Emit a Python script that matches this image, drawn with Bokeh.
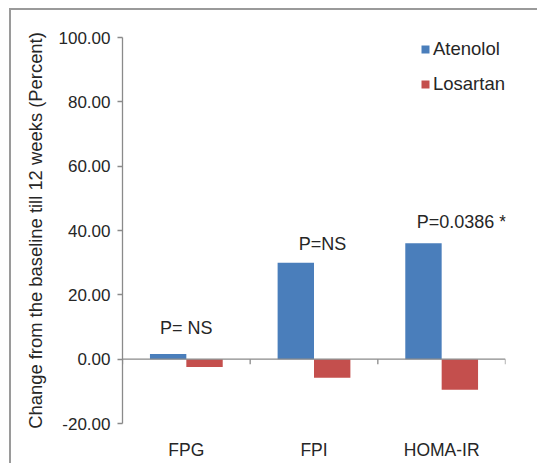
from bokeh.plotting import figure
from bokeh.models import (FactorRange, Range1d, FixedTicker, NumeralTickFormatter,
                          Span, ColumnDataSource, Legend, LegendItem)
from bokeh.transform import dodge
from bokeh.core.properties import value
from bokeh.embed import file_html
from bokeh.resources import INLINE
import numpy as np

# ---- data ----
categories = ["FPG", "FPI", "HOMA-IR"]
atenolol = [1.6, 30.0, 36.0]
losartan = [-2.4, -5.8, -9.5]
y_ticks = [-20, 0, 20, 40, 60, 80, 100]
p_labels = ["P= NS", "P=NS", "P=0.0386 *"]
# annotation placement (offset from category centre, height in data units)
p_label_dx = [0.0, 0.066, 0.155]
p_label_y = [9.6, 35.7, 42.5]

FONT = "Liberation Sans"
TXT = "#262626"
AX = "#8a8a8a"
BLUE = "#4a7ebb"
RED = "#c44f4d"

p = figure(width=528, height=455, output_backend="svg", toolbar_location=None,
           x_range=FactorRange(*categories, range_padding=0),
           y_range=Range1d(-20, 100),
           min_border_left=111, min_border_right=34, min_border_top=27, min_border_bottom=42)
p.styles = {"border-top": "2px solid #9a9a9a", "border-left": "2px solid #9a9a9a",
            "margin-left": "9px", "margin-top": "8px"}
p.outline_line_color = None
p.grid.visible = False

src = ColumnDataSource(dict(cat=categories, a=atenolol, l=losartan))
bw = 0.285
ra = p.vbar(x=dodge("cat", -bw / 2, range=p.x_range), top="a", bottom=0, width=bw,
            source=src, fill_color=BLUE, line_color=None)
rl = p.vbar(x=dodge("cat", bw / 2, range=p.x_range), top="l", bottom=0, width=bw,
            source=src, fill_color=RED, line_color=None)

# category axis line at zero with boundary ticks
p.add_layout(Span(location=0, dimension="width", line_color=AX, line_width=1.3))
bounds = np.arange(len(categories) + 1)
p.segment(x0=bounds, x1=bounds, y0=0, y1=-1.6, line_color=AX, line_width=1.3)

# P-value annotations
lx = [i + 0.5 + d for i, d in enumerate(p_label_dx)]
p.text(x=lx, y=p_label_y, text=p_labels, text_font=value(FONT), text_font_size="18px",
       text_color=TXT, text_align="center", text_baseline="middle")

# y axis
ya = p.yaxis[0]
ya.ticker = FixedTicker(ticks=y_ticks)
ya.formatter = NumeralTickFormatter(format="0.00")
ya.axis_line_color = AX
ya.axis_line_width = 1.3
ya.major_tick_line_color = AX
ya.major_tick_line_width = 1.3
ya.major_tick_out = 5
ya.major_tick_in = 0
ya.minor_tick_line_color = None
ya.major_label_text_font = FONT
ya.major_label_text_font_size = "17px"
ya.major_label_text_color = TXT
ya.major_label_standoff = 7
ya.axis_label = "Change from the baseline till 12 weeks (Percent)"
ya.axis_label_text_font = FONT
ya.axis_label_text_font_size = "18.4px"
ya.axis_label_text_font_style = "normal"
ya.axis_label_text_color = TXT
ya.axis_label_standoff = 10

# x axis (labels only, at bottom)
xa = p.xaxis[0]
xa.axis_line_color = None
xa.major_tick_line_color = None
xa.minor_tick_line_color = None
xa.major_label_text_font = FONT
xa.major_label_text_font_size = "17.5px"
xa.major_label_text_color = TXT
xa.major_label_standoff = 10

legend = Legend(items=[LegendItem(label="Atenolol", renderers=[ra]),
                       LegendItem(label="Losartan", renderers=[rl])],
                location=(298, 328), padding=0, margin=0, spacing=13,
                glyph_width=10, glyph_height=10, label_standoff=3,
                label_text_font=FONT, label_text_font_size="18.5px", label_text_color=TXT,
                border_line_color=None, background_fill_alpha=0)
p.add_layout(legend)

open("out.html", "w").write(file_html(p, INLINE))
